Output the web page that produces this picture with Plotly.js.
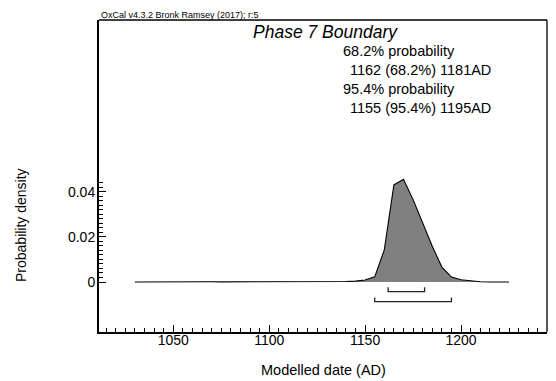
<!DOCTYPE html>
<html>
<head>
<meta charset="utf-8">
<script src="https://cdn.plot.ly/plotly-3.0.1.min.js"></script>
<style>
  html, body { margin: 0; padding: 0; background: #fff; }
  #chart { width: 556px; height: 381px; }
</style>
</head>
<body>
<div id="chart"></div>
<script>
// Posterior density of the Phase 7 boundary (5-year resolution)
const years = [1030, 1035, 1040, 1045, 1050, 1055, 1060, 1065, 1070, 1075,
               1080, 1085, 1090, 1095, 1100, 1105, 1110, 1115, 1120, 1125,
               1130, 1135, 1140, 1145, 1150, 1155, 1160, 1165, 1170, 1175,
               1180, 1185, 1190, 1195, 1200, 1205, 1210, 1215, 1220, 1225];
const density = [0, 0.00005, 0.0001, 0.0001, 0.00015, 0.0002, 0.0003, 0.0002, 0.0001, 0.00005,
                 0.00005, 0.00005, 0.00005, 0.00005, 0.00005, 0.00005, 0.00005, 0.00005, 0.0001, 0.0001,
                 0.0001, 0.00015, 0.0002, 0.0004, 0.0009, 0.0023, 0.0142, 0.043, 0.0455, 0.0365,
                 0.0262, 0.0158, 0.0066, 0.0022, 0.001, 0.0004, 0.0001, 0, 0, 0];

// Highest posterior density ranges
const hpd68 = [1162, 1181];
const hpd95 = [1155, 1195];

const xTickVals = [1050, 1100, 1150, 1200];
const yTickVals = [0, 0.02, 0.04];
const yTickText = ['0', '0.02', '0.04'];
const yMinorVals = [0.002, 0.004, 0.006, 0.008, 0.01, 0.012, 0.014, 0.016, 0.018,
                    0.022, 0.024, 0.026, 0.028, 0.03, 0.032, 0.034, 0.036, 0.038,
                    0.042, 0.044];

const FONT = '"Liberation Sans", Arial, Helvetica, sans-serif';

// bracket drawn below the zero line: [upper end, bar level]
function bracket(range, top, bar) {
  return {
    type: 'scatter', mode: 'lines',
    x: [range[0], range[0], range[1], range[1]],
    y: [top, bar, bar, top],
    line: { color: '#222', width: 1.3 },
    hoverinfo: 'skip', showlegend: false
  };
}

const traces = [
  {
    type: 'scatter', mode: 'lines',
    x: years, y: density,
    fill: 'tozeroy', fillcolor: '#808080',
    line: { color: '#000', width: 1.1 },
    showlegend: false
  },
  bracket(hpd68, -0.00235, -0.0043),
  bracket(hpd95, -0.0069, -0.0087)
];

const textFont = { family: FONT, size: 14.5, color: '#000' };

const layout = {
  width: 556, height: 381,
  margin: { l: 99, r: 9, t: 20, b: 49 },
  paper_bgcolor: '#fff', plot_bgcolor: '#fff',
  font: { family: FONT, size: 14, color: '#000' },
  showlegend: false,
  xaxis: {
    range: [1011.3, 1244.8],
    showgrid: false, zeroline: false,
    showline: true, linecolor: '#000', linewidth: 2,
    tickmode: 'array', tickvals: xTickVals,
    ticks: 'inside', ticklen: 7, tickwidth: 1, tickcolor: '#000',
    ticklabelstandoff: -6,
    tickfont: { family: FONT, size: 14, color: '#000' },
    minor: { tickmode: 'linear', tick0: 1015, dtick: 5, ticks: 'inside', ticklen: 4, tickwidth: 1, tickcolor: '#000', showgrid: false }
  },
  yaxis: {
    range: [-0.02215, 0.11606],
    showgrid: false, zeroline: false,
    showline: true, linecolor: '#000', linewidth: 2,
    tickmode: 'array', tickvals: yTickVals, ticktext: yTickText,
    ticks: 'inside', ticklen: 7, tickwidth: 1, tickcolor: '#000',
    ticklabelstandoff: -1,
    tickfont: { family: FONT, size: 14, color: '#000' },
    minor: { tickmode: 'array', tickvals: yMinorVals, ticks: 'inside', ticklen: 4, tickwidth: 1, tickcolor: '#000', showgrid: false }
  },
  shapes: [
    { type: 'line', xref: 'paper', yref: 'paper', x0: 0, x1: 1, y0: 1, y1: 1, line: { color: '#000', width: 1.3 } },
    { type: 'line', xref: 'paper', yref: 'paper', x0: 1, x1: 1, y0: 0, y1: 1, line: { color: '#000', width: 1.3 } }
  ],
  annotations: [
    { xref: 'paper', yref: 'paper', x: 0, y: 1.016, xanchor: 'left', yanchor: 'middle',
      text: 'OxCal v4.3.2 Bronk Ramsey (2017); r:5', showarrow: false,
      font: { family: FONT, size: 9, color: '#000' } },
    { xref: 'paper', yref: 'paper', x: (251 - 99) / 448, y: (332 - 32) / 312, xanchor: 'left', yanchor: 'middle',
      text: '<i>Phase 7 Boundary</i>', showarrow: false,
      font: { family: FONT, size: 17.5, color: '#000' } },
    { xref: 'paper', yref: 'paper', x: (341 - 99) / 448, y: (332 - 51) / 312, xanchor: 'left', yanchor: 'middle',
      text: '68.2% probability', showarrow: false, font: textFont },
    { xref: 'paper', yref: 'paper', x: (348 - 99) / 448, y: (332 - 69.5) / 312, xanchor: 'left', yanchor: 'middle',
      text: hpd68[0] + ' (68.2%) ' + hpd68[1] + 'AD', showarrow: false, font: textFont },
    { xref: 'paper', yref: 'paper', x: (341 - 99) / 448, y: (332 - 89) / 312, xanchor: 'left', yanchor: 'middle',
      text: '95.4% probability', showarrow: false, font: textFont },
    { xref: 'paper', yref: 'paper', x: (348 - 99) / 448, y: (332 - 107.5) / 312, xanchor: 'left', yanchor: 'middle',
      text: hpd95[0] + ' (95.4%) ' + hpd95[1] + 'AD', showarrow: false, font: textFont },
    { xref: 'paper', yref: 'paper', x: 0.5, y: (332 - 370) / 312, xanchor: 'center', yanchor: 'middle',
      text: 'Modelled date (AD)', showarrow: false,
      font: { family: FONT, size: 14.5, color: '#000' } },
    { xref: 'paper', yref: 'paper', x: (21 - 99) / 448, y: (332 - 225) / 312, xanchor: 'center', yanchor: 'middle',
      text: 'Probability density', textangle: -90, showarrow: false,
      font: { family: FONT, size: 14, color: '#000' } }
  ]
};

Plotly.newPlot('chart', traces, layout, { staticPlot: true, displayModeBar: false });
</script>
</body>
</html>
